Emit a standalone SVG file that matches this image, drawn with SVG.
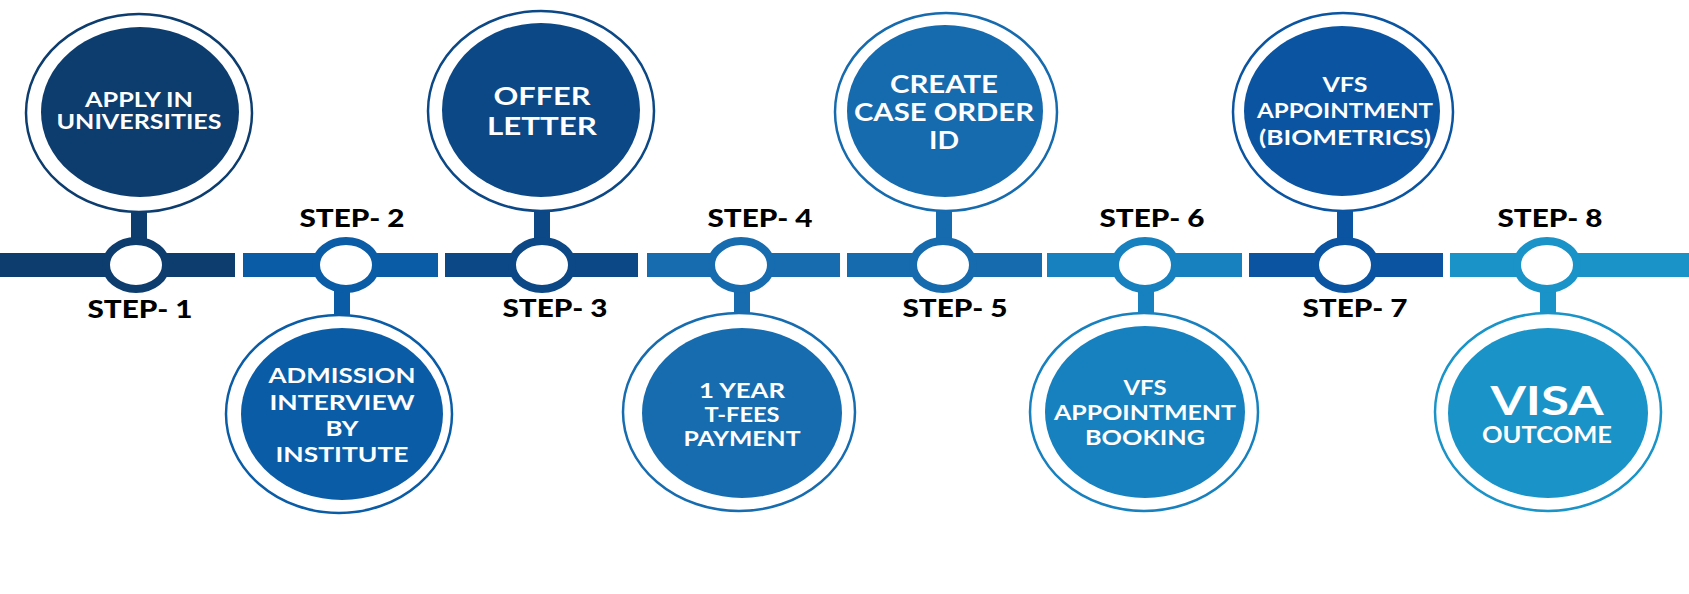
<svg xmlns="http://www.w3.org/2000/svg" width="1689" height="594" viewBox="0 0 1689 594">
<style>
.ring{fill:#fff;stroke-width:2.5}
.dot{fill:#fff;stroke-width:8}
.lbl{font-family:Lato,"Open Sans","DejaVu Sans",sans-serif;font-weight:900;font-size:24px;fill:#000;text-anchor:middle}
.nt{font-family:Lato,"Open Sans","DejaVu Sans",sans-serif;font-weight:700;font-size:21px;fill:#fff;text-anchor:middle}
</style>
<rect width="1689" height="594" fill="#fff"/>
<g id="connectors">
<rect x="0" y="253" width="235" height="24" fill="#0d3d6e"/>
<rect x="243" y="253" width="195" height="24" fill="#0b5ca6"/>
<rect x="445" y="253" width="193" height="24" fill="#0c4886"/>
<rect x="647" y="253" width="193" height="24" fill="#176cb0"/>
<rect x="847" y="253" width="195" height="24" fill="#166aae"/>
<rect x="1047" y="253" width="195" height="24" fill="#1781bf"/>
<rect x="1249" y="253" width="194" height="24" fill="#0a54a2"/>
<rect x="1450" y="253" width="239" height="24" fill="#1993c8"/>
</g>
<g id="step1">
<rect x="131" y="205" width="16" height="40" fill="#0d3d6e"/>
<ellipse class="ring" cx="139" cy="113" rx="113" ry="99" stroke="#0d3d6e"/>
<ellipse cx="140" cy="112" rx="99" ry="85" fill="#0d3d6e"/>
<ellipse class="dot" cx="136" cy="265" rx="30" ry="24" stroke="#0d3d6e"/>
<text class="nt" x="139" y="107" textLength="108" lengthAdjust="spacingAndGlyphs">APPLY IN</text>
<text class="nt" x="139" y="129" textLength="165" lengthAdjust="spacingAndGlyphs">UNIVERSITIES</text>
<text class="lbl" x="140" y="318" textLength="105" lengthAdjust="spacingAndGlyphs">STEP- 1</text>
</g>
<g id="step2">
<rect x="334" y="285" width="16" height="40" fill="#0b5ca6"/>
<ellipse class="ring" cx="339" cy="414" rx="113" ry="99" stroke="#0b5ca6"/>
<ellipse cx="342" cy="414" rx="101" ry="86" fill="#0b5ca6"/>
<ellipse class="dot" cx="346" cy="265" rx="30" ry="24" stroke="#0b5ca6"/>
<text class="nt" x="342" y="383" textLength="147" lengthAdjust="spacingAndGlyphs">ADMISSION</text>
<text class="nt" x="342" y="410" textLength="145" lengthAdjust="spacingAndGlyphs">INTERVIEW</text>
<text class="nt" x="342" y="436" textLength="33" lengthAdjust="spacingAndGlyphs">BY</text>
<text class="nt" x="342" y="462" textLength="133" lengthAdjust="spacingAndGlyphs">INSTITUTE</text>
<text class="lbl" x="352" y="227" textLength="105" lengthAdjust="spacingAndGlyphs">STEP- 2</text>
</g>
<g id="step3">
<rect x="534" y="205" width="16" height="40" fill="#0c4886"/>
<ellipse class="ring" cx="541" cy="111" rx="113" ry="100" stroke="#0c4886"/>
<ellipse cx="541" cy="110" rx="99" ry="87" fill="#0c4886"/>
<ellipse class="dot" cx="542" cy="265" rx="30" ry="24" stroke="#0c4886"/>
<text class="nt" x="542" y="105" style="font-size:24px" textLength="97" lengthAdjust="spacingAndGlyphs">OFFER</text>
<text class="nt" x="542" y="135" style="font-size:24px" textLength="110" lengthAdjust="spacingAndGlyphs">LETTER</text>
<text class="lbl" x="555" y="317" textLength="105" lengthAdjust="spacingAndGlyphs">STEP- 3</text>
</g>
<g id="step4">
<rect x="734" y="285" width="16" height="40" fill="#176cb0"/>
<ellipse class="ring" cx="739" cy="412" rx="116" ry="99" stroke="#176cb0"/>
<ellipse cx="742" cy="413" rx="100" ry="85" fill="#176cb0"/>
<ellipse class="dot" cx="741" cy="265" rx="30" ry="24" stroke="#176cb0"/>
<text class="nt" x="742" y="398" textLength="86" lengthAdjust="spacingAndGlyphs">1 YEAR</text>
<text class="nt" x="742" y="422" textLength="75" lengthAdjust="spacingAndGlyphs">T-FEES</text>
<text class="nt" x="742" y="446" textLength="117" lengthAdjust="spacingAndGlyphs">PAYMENT</text>
<text class="lbl" x="760" y="227" textLength="105" lengthAdjust="spacingAndGlyphs">STEP- 4</text>
</g>
<g id="step5">
<rect x="936" y="205" width="16" height="40" fill="#166aae"/>
<ellipse class="ring" cx="946" cy="112" rx="111" ry="99" stroke="#166aae"/>
<ellipse cx="945" cy="111" rx="98" ry="86" fill="#166aae"/>
<ellipse class="dot" cx="943" cy="265" rx="30" ry="24" stroke="#166aae"/>
<text class="nt" x="944" y="93" style="font-size:24px" textLength="108" lengthAdjust="spacingAndGlyphs">CREATE</text>
<text class="nt" x="944" y="121" style="font-size:24px" textLength="180" lengthAdjust="spacingAndGlyphs">CASE ORDER</text>
<text class="nt" x="944" y="149" style="font-size:24px" textLength="30" lengthAdjust="spacingAndGlyphs">ID</text>
<text class="lbl" x="955" y="317" textLength="105" lengthAdjust="spacingAndGlyphs">STEP- 5</text>
</g>
<g id="step6">
<rect x="1138" y="285" width="16" height="40" fill="#1781bf"/>
<ellipse class="ring" cx="1144" cy="412" rx="114" ry="99" stroke="#1781bf"/>
<ellipse cx="1145" cy="412" rx="100" ry="86" fill="#1781bf"/>
<ellipse class="dot" cx="1145" cy="265" rx="30" ry="24" stroke="#1781bf"/>
<text class="nt" x="1145" y="395" textLength="43" lengthAdjust="spacingAndGlyphs">VFS</text>
<text class="nt" x="1145" y="420" textLength="182" lengthAdjust="spacingAndGlyphs">APPOINTMENT</text>
<text class="nt" x="1145" y="445" textLength="120" lengthAdjust="spacingAndGlyphs">BOOKING</text>
<text class="lbl" x="1152" y="227" textLength="105" lengthAdjust="spacingAndGlyphs">STEP- 6</text>
</g>
<g id="step7">
<rect x="1337" y="205" width="16" height="40" fill="#0a54a2"/>
<ellipse class="ring" cx="1343" cy="112" rx="110" ry="99" stroke="#0a54a2"/>
<ellipse cx="1342" cy="111" rx="98" ry="85" fill="#0a54a2"/>
<ellipse class="dot" cx="1345" cy="265" rx="30" ry="24" stroke="#0a54a2"/>
<text class="nt" x="1345" y="92" textLength="45" lengthAdjust="spacingAndGlyphs">VFS</text>
<text class="nt" x="1345" y="118" textLength="176" lengthAdjust="spacingAndGlyphs">APPOINTMENT</text>
<text class="nt" x="1345" y="145" textLength="172" lengthAdjust="spacingAndGlyphs">(BIOMETRICS)</text>
<text class="lbl" x="1355" y="317" textLength="105" lengthAdjust="spacingAndGlyphs">STEP- 7</text>
</g>
<g id="step8">
<rect x="1540" y="285" width="16" height="40" fill="#1993c8"/>
<ellipse class="ring" cx="1548" cy="412" rx="113" ry="99" stroke="#1993c8"/>
<ellipse cx="1548" cy="413" rx="100" ry="85" fill="#1993c8"/>
<ellipse class="dot" cx="1547" cy="265" rx="30" ry="24" stroke="#1993c8"/>
<text class="nt" x="1547" y="415" style="font-size:41px" textLength="113" lengthAdjust="spacingAndGlyphs">VISA</text>
<text class="nt" x="1547" y="443" style="font-size:22px" textLength="130" lengthAdjust="spacingAndGlyphs">OUTCOME</text>
<text class="lbl" x="1550" y="227" textLength="105" lengthAdjust="spacingAndGlyphs">STEP- 8</text>
</g>
</svg>
